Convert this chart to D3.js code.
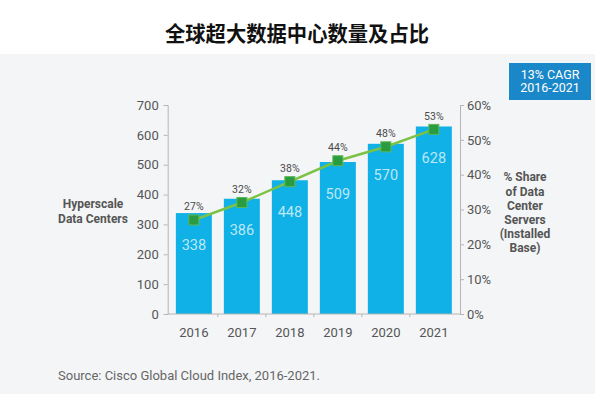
<!DOCTYPE html>
<html>
<head>
<meta charset="utf-8">
<script src="https://cdn.jsdelivr.net/npm/d3@7"></script>
<style>
  html, body { margin: 0; padding: 0; background: #ffffff; }
  svg { display: block; }
</style>
</head>
<body>
<svg id="chart" width="600" height="400"></svg>
<script>
const years = ["2016", "2017", "2018", "2019", "2020", "2021"];
const dataCenters = [338, 386, 448, 509, 570, 628];
const sharePct = [27, 32, 38, 44, 48, 53];
const leftTicks = [0, 100, 200, 300, 400, 500, 600, 700];
const rightTicks = [0, 10, 20, 30, 40, 50, 60];
const titleText = "全球超大数据中心数量及占比";
const leftTitle = ["Hyperscale", "Data Centers"];
const rightTitle = ["% Share", "of Data", "Center", "Servers", "(Installed", "Base)"];
const cagrText = ["13% CAGR", "2016-2021"];
const sourceText = "Source: Cisco Global Cloud Index, 2016-2021.";

const latin = "Roboto, 'Liberation Sans', Arial, sans-serif";
const svg = d3.select("#chart");

// panel background
svg.append("rect").attr("x", 0).attr("y", 54).attr("width", 595).attr("height", 340)
  .attr("fill", "#f4f5f7");

// title
svg.append("text").attr("x", 165).attr("y", 32)
  .attr("dominant-baseline", "central")
  .attr("font-family", "'Noto Sans CJK SC', sans-serif").attr("font-weight", 700)
  .attr("font-size", 21).attr("textLength", 264).attr("lengthAdjust", "spacingAndGlyphs")
  .attr("fill", "#111")
  .text(titleText);

const x = d3.scaleBand().domain(years).range([167.7, 460]).paddingInner(0.25).paddingOuter(0.17);
const y = d3.scaleLinear().domain([0, 700]).range([314, 105]);
const y2 = d3.scaleLinear().domain([0, 60]).range([314, 105]);

// bars
svg.append("g").selectAll("rect").data(years).join("rect")
  .attr("x", d => x(d)).attr("width", x.bandwidth())
  .attr("y", (d, i) => y(dataCenters[i]))
  .attr("height", (d, i) => y(0) - y(dataCenters[i]))
  .attr("fill", "#0fb1e6");

// bar value labels
svg.append("g").selectAll("text").data(years).join("text")
  .attr("x", d => x(d) + x.bandwidth() / 2)
  .attr("y", (d, i) => y(dataCenters[i]) + 32)
  .attr("text-anchor", "middle").attr("dominant-baseline", "central")
  .attr("font-family", latin).attr("font-size", 14.5)
  .attr("fill", "#ffffff").attr("fill-opacity", 0.72)
  .text((d, i) => dataCenters[i]);

// axes
const axisColor = "#b5b5b5";
const leftAxis = svg.append("g").attr("transform", "translate(167.7,0)")
  .call(d3.axisLeft(y).tickValues(leftTicks).tickSize(4).tickPadding(5));
const rightAxis = svg.append("g").attr("transform", "translate(460,0)")
  .call(d3.axisRight(y2).tickValues(rightTicks).tickFormat(d => d + "%").tickSize(4).tickPadding(3));
const bottomAxis = svg.append("g").attr("transform", "translate(0,314)")
  .call(d3.axisBottom(x).tickSize(0).tickPadding(14));
[leftAxis, rightAxis, bottomAxis].forEach(g => {
  g.select(".domain").attr("stroke", axisColor);
  g.selectAll(".tick line").attr("stroke", axisColor);
  g.selectAll("text").attr("font-family", latin).attr("font-size", 13).attr("fill", "#555");
});
bottomAxis.select(".domain").attr("d", "M167.7,0H460");
// small separators between bands on the x axis
const gap = x.step() * x.paddingInner() / 2;
svg.append("g").selectAll("line").data(years.slice(1)).join("line")
  .attr("x1", d => x(d) - gap).attr("x2", d => x(d) - gap)
  .attr("y1", 314).attr("y2", 317).attr("stroke", axisColor);

// line
const cx = d => x(d) + x.bandwidth() / 2;
svg.append("path").datum(years)
  .attr("fill", "none").attr("stroke", "#7cc245").attr("stroke-width", 2.5)
  .attr("d", d3.line().x(d => cx(d)).y((d, i) => y2(sharePct[i])));

// markers
const ms = 10;
svg.append("g").selectAll("rect").data(years).join("rect")
  .attr("x", d => cx(d) - ms / 2).attr("y", (d, i) => y2(sharePct[i]) - ms / 2)
  .attr("width", ms).attr("height", ms)
  .attr("fill", "#2a9b3e").attr("stroke", "#5cb85a").attr("stroke-width", 1);

// percent labels
svg.append("g").selectAll("text").data(years).join("text")
  .attr("x", d => cx(d)).attr("y", (d, i) => y2(sharePct[i]) - 13)
  .attr("text-anchor", "middle").attr("dominant-baseline", "central")
  .attr("font-family", latin).attr("font-size", 10.5).attr("fill", "#4a4a4a")
  .text((d, i) => sharePct[i] + "%");

// left axis title
svg.append("g").selectAll("text").data(leftTitle).join("text")
  .attr("x", 93).attr("y", (d, i) => 204 + i * 14.5)
  .attr("text-anchor", "middle").attr("dominant-baseline", "central")
  .attr("font-family", latin).attr("font-weight", 700).attr("font-size", 12).attr("fill", "#555")
  .text(d => d);

// right axis title
svg.append("g").selectAll("text").data(rightTitle).join("text")
  .attr("x", 525).attr("y", (d, i) => 177.3 + i * 14.2)
  .attr("text-anchor", "middle").attr("dominant-baseline", "central")
  .attr("font-family", latin).attr("font-weight", 700).attr("font-size", 12).attr("fill", "#555")
  .text(d => d);

// CAGR box
svg.append("rect").attr("x", 509).attr("y", 63).attr("width", 82).attr("height", 37)
  .attr("fill", "#1a87c8");
svg.append("g").selectAll("text").data(cagrText).join("text")
  .attr("x", 550).attr("y", (d, i) => 74 + i * 13.5)
  .attr("text-anchor", "middle").attr("dominant-baseline", "central")
  .attr("font-family", latin).attr("font-size", 12.5).attr("fill", "#ffffff")
  .text(d => d);

// source
svg.append("text").attr("x", 58).attr("y", 375).attr("dominant-baseline", "central")
  .attr("font-family", latin).attr("font-size", 13).attr("fill", "#666")
  .text(sourceText);
</script>
</body>
</html>
